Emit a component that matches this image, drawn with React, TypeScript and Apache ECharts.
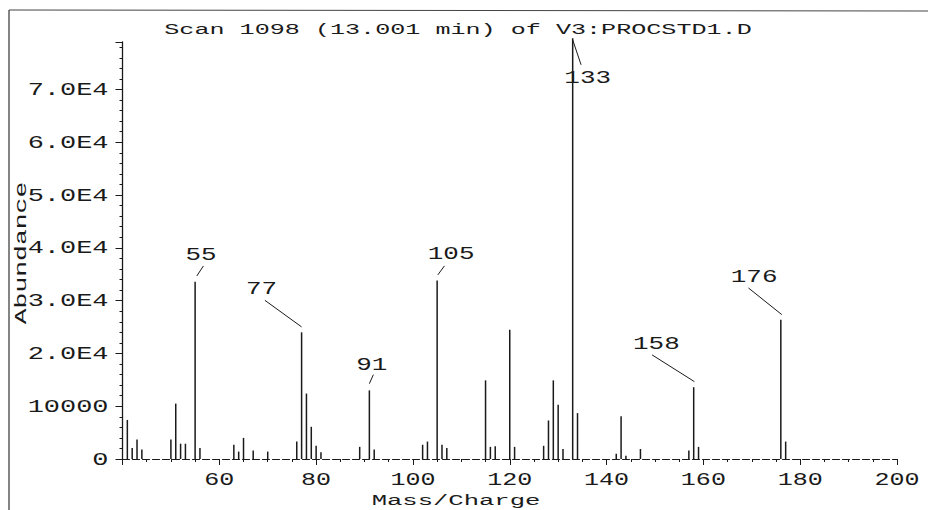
import { useEffect, useRef } from 'react';
import * as echarts from 'echarts';

// ---- data ----
const chartTitle = 'Scan 1098 (13.001 min) of V3:PROCSTD1.D';
const xAxisName = 'Mass/Charge';
const yAxisName = 'Abundance';

const masses = [41, 42, 43, 44, 50, 51, 52, 53, 55, 56, 63, 64, 65, 67, 70, 76, 77, 78, 79, 80, 81, 89, 91, 92, 102, 103, 105, 106, 107, 115, 116, 117, 120, 121, 127, 128, 129, 130, 131, 133, 134, 142, 143, 144, 147, 157, 158, 159, 176, 177];
const abundances = [7400, 2100, 3700, 1800, 3700, 10500, 2900, 2900, 33600, 2100, 2700, 1400, 4000, 1600, 1400, 3300, 24000, 12400, 6100, 2500, 1300, 2300, 13000, 1800, 2700, 3300, 33800, 2700, 2100, 14900, 2300, 2400, 24500, 2300, 2500, 7300, 14900, 10300, 1900, 79700, 8700, 1000, 8100, 600, 1900, 1600, 13600, 2300, 26400, 3300];

const labeledMasses = [55, 77, 91, 105, 133, 158, 176];

const xTickValues = [60, 80, 100, 120, 140, 160, 180, 200];
const xTickLabels = ['60', '80', '100', '120', '140', '160', '180', '200'];
const yTickValues = [0, 10000, 20000, 30000, 40000, 50000, 60000, 70000];
const yTickLabels = ['0', '10000', '2.0E4', '3.0E4', '4.0E4', '5.0E4', '6.0E4', '7.0E4'];

// ---- styling / layout (not data) ----
const FONT = '"Liberation Mono", "DejaVu Sans Mono", monospace';
const INK = '#1a1a1a';

// leader line offsets [x1,y1,x2,y2] and text centre [tx,ty] relative to peak top
const leaderLayout: Record<number, { l: number[]; t: number[] }> = {
  55: { l: [1.7, -5.7, 8.3, -15.7], t: [6, -26.7] },
  77: { l: [0, -5.4, -36.7, -32], t: [-40, -43.4] },
  91: { l: [0, -6.7, 4, -15.7], t: [2.4, -25.7] },
  105: { l: [0.7, -5.7, 7.3, -14.7], t: [14, -26.7] },
  133: { l: [0, 1.5, 8.4, 26.5], t: [15, 39.8] },
  158: { l: [0.7, -5.6, -41.6, -32.3], t: [-37.3, -43.3] },
  176: { l: [1, -5, -32.4, -31.7], t: [-26.7, -43.3] },
};

export default function App() {
  const ref = useRef<HTMLDivElement>(null);

  useEffect(() => {
    if (!ref.current) return;
    const chart = echarts.init(ref.current, undefined, { renderer: 'svg' });

    const peakData = masses.map((m, i) => [m, abundances[i]]);
    const labelData = labeledMasses.map((m) => [m, abundances[masses.indexOf(m)]]);

    chart.setOption({
      animation: false,
      backgroundColor: '#ffffff',
      grid: { left: 122.5, right: 31, top: 42, bottom: 51, containLabel: false, outerBoundsMode: 'none' },
      xAxis: {
        type: 'value',
        min: 40,
        max: 200,
        interval: 20,
        axisLine: { show: true, onZero: false, lineStyle: { color: INK, width: 1.1, type: [7, 3] } },
        axisTick: { show: true, length: 6, lineStyle: { color: INK, width: 1 } },
        minorTick: { show: true, splitNumber: 4, length: 3, lineStyle: { color: INK, width: 1 } },
        axisLabel: { show: false },
        splitLine: { show: false },
        minorSplitLine: { show: false },
      },
      yAxis: {
        type: 'value',
        min: 0,
        max: 79000,
        interval: 10000,
        axisLine: { show: true, onZero: false, lineStyle: { color: INK, width: 1.3 } },
        axisTick: { show: true, length: 7, lineStyle: { color: INK, width: 1 } },
        minorTick: { show: true, splitNumber: 5, length: 3, lineStyle: { color: INK, width: 1 } },
        axisLabel: { show: false },
        splitLine: { show: false },
        minorSplitLine: { show: false },
      },
      graphic: [
        { type: 'line', shape: { x1: 9, y1: 10, x2: 9, y2: 510 }, style: { stroke: '#333', lineWidth: 1.2 } },
        { type: 'line', shape: { x1: 9, y1: 10, x2: 928, y2: 11 }, style: { stroke: '#444', lineWidth: 1 } },
        {
          type: 'text', x: 458, y: 30, scaleX: 1.62,
          style: { text: chartTitle, fontFamily: FONT, fontSize: 15.5, fill: INK, align: 'center', verticalAlign: 'middle' },
        },
        {
          type: 'text', x: 456, y: 500.5, scaleX: 1.65,
          style: { text: xAxisName, fontFamily: FONT, fontSize: 15.5, fill: INK, align: 'center', verticalAlign: 'middle' },
        },
        {
          type: 'text', x: 22, y: 253, rotation: Math.PI / 2, scaleX: 1.6,
          style: { text: yAxisName, fontFamily: FONT, fontSize: 16.5, fill: INK, align: 'center', verticalAlign: 'middle' },
        },
      ],
      series: [
        {
          type: 'custom',
          name: 'peaks',
          coordinateSystem: 'cartesian2d',
          clip: false,
          silent: true,
          data: peakData,
          encode: { x: 0, y: 1 },
          renderItem: (_params: any, api: any) => {
            const b = api.coord([api.value(0), 0]);
            const t = api.coord([api.value(0), api.value(1)]);
            return {
              type: 'line',
              shape: { x1: b[0], y1: b[1], x2: t[0], y2: t[1] },
              style: { stroke: INK, lineWidth: 1.5 },
            };
          },
        },
        {
          type: 'custom',
          name: 'peakLabels',
          coordinateSystem: 'cartesian2d',
          clip: false,
          silent: true,
          data: labelData,
          encode: { x: 0, y: 1 },
          renderItem: (_params: any, api: any) => {
            const m = api.value(0);
            const p = api.coord([m, api.value(1)]);
            const L = leaderLayout[m];
            return {
              type: 'group',
              children: [
                {
                  type: 'line',
                  shape: { x1: p[0] + L.l[0], y1: p[1] + L.l[1], x2: p[0] + L.l[2], y2: p[1] + L.l[3] },
                  style: { stroke: INK, lineWidth: 1 },
                },
                {
                  type: 'text',
                  x: p[0] + L.t[0],
                  y: p[1] + L.t[1] + 1,
                  scaleX: 1.48,
                  style: { text: String(m), fontFamily: FONT, fontSize: 17.5, fill: INK, align: 'center', verticalAlign: 'middle' },
                },
              ],
            };
          },
        },
        {
          type: 'custom',
          name: 'xTickLabels',
          coordinateSystem: 'cartesian2d',
          clip: false,
          silent: true,
          data: xTickValues.map((v) => [v, 0]),
          encode: { x: 0, y: 1 },
          renderItem: (params: any, api: any) => {
            const p = api.coord([api.value(0), 0]);
            return {
              type: 'text',
              x: p[0],
              y: p[1] + 21.5,
              scaleX: 1.43,
              style: { text: xTickLabels[params.dataIndex], fontFamily: FONT, fontSize: 17.5, fill: INK, align: 'center', verticalAlign: 'middle' },
            };
          },
        },
        {
          type: 'custom',
          name: 'yTickLabels',
          coordinateSystem: 'cartesian2d',
          clip: false,
          silent: true,
          data: yTickValues.map((v) => [40, v]),
          encode: { x: 0, y: 1 },
          renderItem: (params: any, api: any) => {
            const p = api.coord([40, api.value(1)]);
            return {
              type: 'text',
              x: p[0] - 14,
              y: p[1] + 1,
              scaleX: 1.54,
              style: { text: yTickLabels[params.dataIndex], fontFamily: FONT, fontSize: 17.5, fill: INK, align: 'right', verticalAlign: 'middle' },
            };
          },
        },
      ],
    });

    return () => {
      chart.dispose();
    };
  }, []);

  return (
    <div
      ref={ref}
      style={{ position: 'fixed', left: 0, top: 0, width: 928, height: 510, background: '#fff' }}
    />
  );
}
